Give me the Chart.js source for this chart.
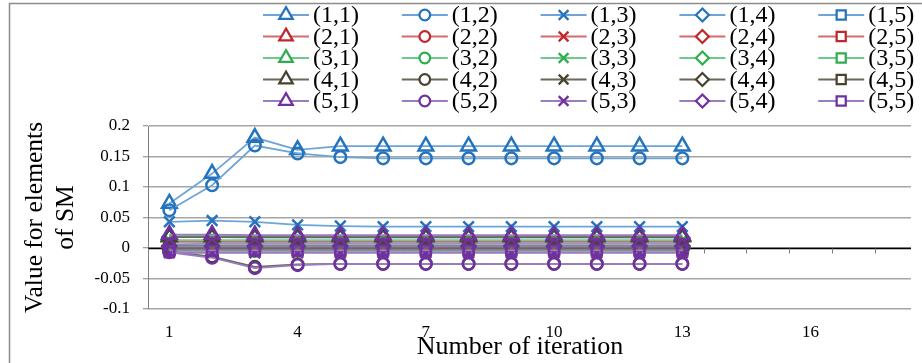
<!DOCTYPE html>
<html>
<head>
<meta charset="utf-8">
<script src="https://cdn.jsdelivr.net/npm/chart.js@4.4.1/dist/chart.umd.min.js"></script>
<style>
  html, body { margin: 0; padding: 0; background: #fff; overflow: hidden; }
  canvas { display: block; }
</style>
</head>
<body>
<canvas id="chart" width="922" height="363"></canvas>
<script>
// Iteration numbers (x) and axis tick values
const iterations = [1, 2, 3, 4, 5, 6, 7, 8, 9, 10, 11, 12, 13];
const xTickValues = [1, 4, 7, 10, 13, 16];
const yTickValues = [-0.1, -0.05, 0, 0.05, 0.1, 0.15, 0.2];

const seriesLabels = [
  '(1,1)', '(1,2)', '(1,3)', '(1,4)', '(1,5)',
  '(2,1)', '(2,2)', '(2,3)', '(2,4)', '(2,5)',
  '(3,1)', '(3,2)', '(3,3)', '(3,4)', '(3,5)',
  '(4,1)', '(4,2)', '(4,3)', '(4,4)', '(4,5)',
  '(5,1)', '(5,2)', '(5,3)', '(5,4)', '(5,5)'
];

// Element values of SM per iteration
const v11 = [0.073, 0.122, 0.181, 0.161, 0.167, 0.167, 0.167, 0.167, 0.167, 0.167, 0.167, 0.167, 0.167];
const v12 = [0.062, 0.103, 0.168, 0.155, 0.149, 0.147, 0.147, 0.147, 0.147, 0.147, 0.147, 0.147, 0.147];
const v13 = [0.043, 0.045, 0.043, 0.038, 0.036, 0.035, 0.035, 0.035, 0.035, 0.035, 0.035, 0.035, 0.035];
const v14 = [0.018, 0.018, 0.017, 0.017, 0.017, 0.017, 0.017, 0.017, 0.017, 0.017, 0.017, 0.017, 0.017];
const v15 = [0.006, 0.007, 0.007, 0.007, 0.007, 0.007, 0.007, 0.007, 0.007, 0.007, 0.007, 0.007, 0.007];
const v21 = [0.019, 0.019, 0.019, 0.019, 0.019, 0.019, 0.019, 0.019, 0.019, 0.019, 0.019, 0.019, 0.019];
const v22 = [-0.004, -0.004, -0.004, -0.004, -0.004, -0.004, -0.004, -0.004, -0.004, -0.004, -0.004, -0.004, -0.004];
const v23 = [0.010, 0.010, 0.010, 0.010, 0.010, 0.010, 0.010, 0.010, 0.010, 0.010, 0.010, 0.010, 0.010];
const v24 = [0.002, 0.002, 0.002, 0.002, 0.002, 0.002, 0.002, 0.002, 0.002, 0.002, 0.002, 0.002, 0.002];
const v25 = [-0.002, -0.002, -0.002, -0.002, -0.002, -0.002, -0.002, -0.002, -0.002, -0.002, -0.002, -0.002, -0.002];
const v31 = [0.020, 0.020, 0.020, 0.020, 0.020, 0.020, 0.020, 0.020, 0.020, 0.020, 0.020, 0.020, 0.020];
const v32 = [-0.005, -0.005, -0.005, -0.005, -0.005, -0.005, -0.005, -0.005, -0.005, -0.005, -0.005, -0.005, -0.005];
const v33 = [0.013, 0.013, 0.013, 0.013, 0.013, 0.013, 0.013, 0.013, 0.013, 0.013, 0.013, 0.013, 0.013];
const v34 = [0.004, 0.004, 0.004, 0.004, 0.004, 0.004, 0.004, 0.004, 0.004, 0.004, 0.004, 0.004, 0.004];
const v35 = [0.001, 0.001, 0.001, 0.001, 0.001, 0.001, 0.001, 0.001, 0.001, 0.001, 0.001, 0.001, 0.001];
const v41 = [0.018, 0.018, 0.018, 0.018, 0.018, 0.018, 0.018, 0.018, 0.018, 0.018, 0.018, 0.018, 0.018];
const v42 = [-0.006, -0.014, -0.031, -0.027, -0.026, -0.026, -0.026, -0.026, -0.026, -0.026, -0.026, -0.026, -0.026];
const v43 = [0.004, 0.004, 0.004, 0.004, 0.004, 0.004, 0.004, 0.004, 0.004, 0.004, 0.004, 0.004, 0.004];
const v44 = [-0.001, -0.001, -0.001, -0.001, -0.001, -0.001, -0.001, -0.001, -0.001, -0.001, -0.001, -0.001, -0.001];
const v45 = [0.000, 0.000, 0.000, 0.000, 0.000, 0.000, 0.000, 0.000, 0.000, 0.000, 0.000, 0.000, 0.000];
const v51 = [0.022, 0.022, 0.021, 0.021, 0.021, 0.021, 0.021, 0.021, 0.021, 0.021, 0.021, 0.021, 0.021];
const v52 = [-0.007, -0.016, -0.033, -0.028, -0.026, -0.026, -0.026, -0.026, -0.026, -0.026, -0.026, -0.026, -0.026];
const v53 = [-0.008, -0.008, -0.008, -0.008, -0.008, -0.008, -0.008, -0.008, -0.008, -0.008, -0.008, -0.008, -0.008];
const v54 = [0.003, 0.003, 0.003, 0.003, 0.003, 0.003, 0.003, 0.003, 0.003, 0.003, 0.003, 0.003, 0.003];
const v55 = [-0.004, -0.004, -0.004, -0.004, -0.004, -0.004, -0.004, -0.004, -0.004, -0.004, -0.004, -0.004, -0.004];

const seriesValues = [
  v11, v12, v13, v14, v15,
  v21, v22, v23, v24, v25,
  v31, v32, v33, v34, v35,
  v41, v42, v43, v44, v45,
  v51, v52, v53, v54, v55
];

// Styling: marker shape by column, colour by row
const markerStyles = ['triangle', 'circle', 'crossRot', 'rectRot', 'rect'];
const markerRadius = { triangle: 8.5, circle: 5.8, crossRot: 7.5, rectRot: 7, rect: 7 };
const rowMarkerColors = ['#2473bf', '#c0272d', '#2eae4e', '#48432f', '#7030a0'];
const rowLineColors = ['#6da5d9', '#d46a6e', '#70c98c', '#6b6858', '#9a7cc1'];

const yAxisTitle = ['Value for elements', 'of SM'];
const xAxisTitle = 'Number of iteration';
const serif = "'Liberation Serif', 'Times New Roman', serif";

Chart.defaults.font.family = serif;
Chart.defaults.color = '#000';

const datasets = seriesValues.map((vals, k) => {
  const row = Math.floor(k / 5), col = k % 5;
  const style = markerStyles[col];
  return {
    label: seriesLabels[k],
    data: vals.map((y, i) => ({ x: iterations[i], y })),
    borderColor: rowLineColors[row],
    borderWidth: 1.75,
    pointStyle: style,
    pointRadius: markerRadius[style],
    pointBorderColor: rowMarkerColors[row],
    pointBackgroundColor: 'rgba(255,255,255,0)',
    pointBorderWidth: 2.5,
    tension: 0,
    order: seriesValues.length - k
  };
});

// White background and outer frame
const framePlugin = {
  id: 'frame',
  beforeDraw(chart) {
    const ctx = chart.ctx;
    ctx.save();
    ctx.fillStyle = '#fff';
    ctx.fillRect(0, 0, chart.width, chart.height);
    ctx.strokeStyle = '#8c8c8c';
    ctx.lineWidth = 1.5;
    ctx.strokeRect(9.5, 3.5, 2000, 2000);
    ctx.restore();
  }
};

// Horizontal axis line crossing at zero, with tick marks between iterations
const zeroAxisPlugin = {
  id: 'zeroAxis',
  beforeDatasetsDraw(chart) {
    const { ctx, chartArea, scales: { x, y } } = chart;
    const y0 = Math.round(y.getPixelForValue(0)) + 0.5;
    ctx.save();
    ctx.strokeStyle = '#000';
    ctx.lineWidth = 1.5;
    ctx.beginPath();
    ctx.moveTo(chartArea.left, y0);
    ctx.lineTo(chartArea.right, y0);
    ctx.stroke();
    ctx.strokeStyle = '#7f7f7f';
    ctx.lineWidth = 1;
    ctx.beginPath();
    for (let v = Math.ceil(x.min - 0.5) + 0.5; v <= x.max; v += 1) {
      const px = Math.round(x.getPixelForValue(v)) + 0.5;
      ctx.moveTo(px, y0);
      ctx.lineTo(px, y0 + 5);
    }
    ctx.stroke();
    ctx.restore();
  }
};

// Five-column legend with line and marker samples
const gridLegendPlugin = {
  id: 'gridLegend',
  afterDraw(chart) {
    const ctx = chart.ctx;
    ctx.save();
    chart.data.datasets.forEach((ds, k) => {
      const row = Math.floor(k / 5), col = k % 5;
      const x0 = 263 + col * 138.8;
      const yc = 15 + row * 21.5;
      ctx.strokeStyle = ds.borderColor;
      ctx.lineWidth = 2;
      ctx.beginPath();
      ctx.moveTo(x0, yc);
      ctx.lineTo(x0 + 46, yc);
      ctx.stroke();
      ctx.fillStyle = '#fff';
      ctx.strokeStyle = ds.pointBorderColor;
      ctx.lineWidth = 2.25;
      Chart.helpers.drawPoint(ctx, {
        pointStyle: ds.pointStyle,
        radius: ds.pointRadius * 0.92,
        borderWidth: 2.25,
        rotation: 0
      }, x0 + 23, yc);
      ctx.fillStyle = '#000';
      ctx.font = '24px ' + serif;
      ctx.textAlign = 'left';
      ctx.textBaseline = 'middle';
      ctx.fillText(ds.label, x0 + 50, yc + 1);
    });
    ctx.restore();
  }
};

// Horizontal axis title
const xTitlePlugin = {
  id: 'xTitle',
  afterDraw(chart) {
    const ctx = chart.ctx;
    ctx.save();
    ctx.fillStyle = '#000';
    ctx.font = '26px ' + serif;
    ctx.textAlign = 'center';
    ctx.textBaseline = 'middle';
    ctx.fillText(xAxisTitle, 520, 347);
    ctx.restore();
  }
};

new Chart(document.getElementById('chart'), {
  type: 'line',
  data: { datasets },
  options: {
    responsive: false,
    animation: false,
    devicePixelRatio: 1,
    layout: { padding: { top: 126, left: 0, right: 0, bottom: 0 } },
    plugins: { legend: { display: false }, tooltip: { enabled: false } },
    scales: {
      x: {
        type: 'linear',
        min: 0.5,
        max: 18.35,
        afterBuildTicks: s => { s.ticks = xTickValues.map(v => ({ value: v })); },
        ticks: { font: { size: 17 }, color: '#000', padding: 13, maxRotation: 0, autoSkip: false, callback: v => String(v) },
        grid: { display: false, drawTicks: false },
        border: { display: false },
        afterFit: s => { s.height = 54; }
      },
      y: {
        min: -0.1,
        max: 0.2,
        afterBuildTicks: s => { s.ticks = yTickValues.map(v => ({ value: v })); },
        ticks: { font: { size: 17 }, color: '#000', padding: 13, callback: v => String(+v.toFixed(2)) },
        grid: { color: '#a6a6a6', lineWidth: 1.5, tickLength: 5, tickColor: '#7f7f7f', tickWidth: 1 },
        border: { color: '#7f7f7f', width: 1 },
        title: { display: true, text: yAxisTitle, font: { size: 25.5 }, color: '#000', padding: { top: 20, bottom: 0 } },
        afterFit: s => { s.width = 148; }
      }
    }
  },
  plugins: [framePlugin, zeroAxisPlugin, gridLegendPlugin, xTitlePlugin]
});
</script>
</body>
</html>
